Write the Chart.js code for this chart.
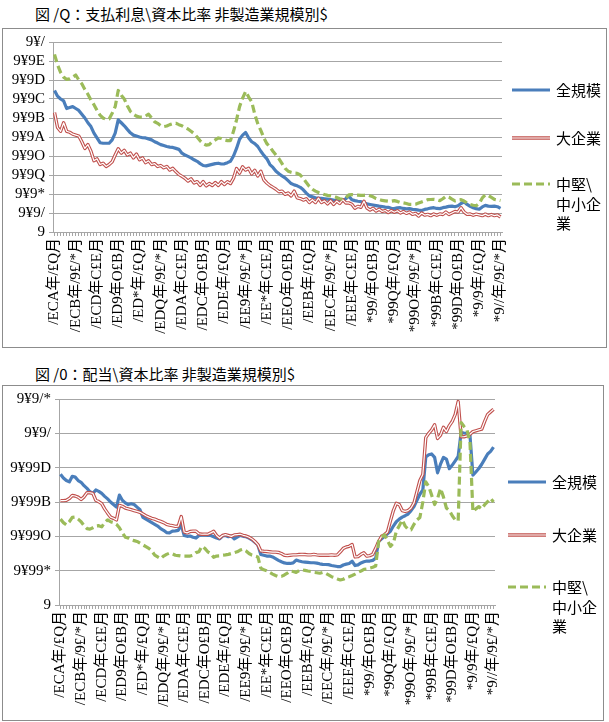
<!DOCTYPE html>
<html lang="ja">
<head>
<meta charset="utf-8">
<title>支払利息・配当／資本比率</title>
<script src="https://cdn.jsdelivr.net/npm/chart.js@4/dist/chart.umd.min.js"></script>
<style>
  body { margin:0; width:609px; height:722px; position:relative; background:#fff; font-family:"Noto Sans CJK JP", sans-serif; color:#000; overflow:hidden; }
  .title { position:absolute; left:35px; font-size:15px; line-height:20px; white-space:nowrap; }
  .box { position:absolute; border:1px solid #8c8c8c; }
  canvas { position:absolute; }
  .item { position:absolute; font-size:15px; line-height:19.5px; }
  .item svg { position:absolute; left:0; top:0; }
  .item span { position:absolute; top:0; white-space:pre; }
</style>
</head>
<body>
<div class="title" style="top:4px">図 /Q：支払利息\資本比率 非製造業規模別$</div>
<div class="box" style="left:2px; top:28px; width:603px; height:318px"></div>
<canvas id="chart1" width="602" height="317" style="left:3px; top:29px"></canvas>
<div id="legend1"></div>

<div class="title" style="top:364px">図 /0：配当\資本比率 非製造業規模別$</div>
<div class="box" style="left:2px; top:385px; width:600px; height:334px"></div>
<canvas id="chart2" width="599" height="333" style="left:3px; top:386px"></canvas>
<div id="legend2"></div>

<script>
// 1975年1-3月 ... 2011年10-12月 (四半期)
var firstYear = 1975;
var lastYear = 2011;
var quarterText = ['1~3', '4~6', '7~9', '10~12'];
var seriesNames = ['全規模', '大企業', '中堅\\中小企業'];
var legendText = ['全規模', '大企業', '中堅\\\n中小企\n業'];

// 支払利息/資本比率 (単位: 1/1000)
var interestAll = [
  74.5, 71.5, 70, 69, 65, 65.5, 66, 65, 64, 62,
  60, 57.5, 55.5, 52, 49.5, 47, 46.7, 46.7, 46.7, 48.5,
  52, 59, 57.5, 55.9, 54, 52.2, 51, 50.5, 50, 49.6,
  49.5, 49, 48.5, 47.5, 46.8, 46, 45.5, 45, 44.7, 44.5,
  44, 43.5, 41.5, 40.5, 39.8, 39, 38, 37.2, 36, 35,
  34.8, 35.2, 35.6, 36, 36.2, 35.8, 35.9, 36.5, 37.2, 40,
  44, 48.8, 51, 52.4, 49.5, 47.5, 46.5, 45, 42.5, 40.3,
  38.5, 35.5, 34, 32, 30.7, 29.5, 28.5, 27, 25.5, 24.8,
  24.3, 23.5, 22.2, 20.5, 19, 18.5, 18, 17.8, 17.7, 17.5,
  17.3, 17.1, 16.8, 16.6, 16.3, 16.5, 17.5, 19, 17, 16.5,
  16.2, 16, 15.3, 14.8, 14.5, 14.2, 13.9, 13.6, 13.4, 13.1,
  13, 12.5, 12.3, 12.7, 12.8, 12.4, 12.2, 12.3, 11.9, 11.8,
  11.5, 11.3, 11.9, 12.2, 12.6, 12.8, 12.4, 12.3, 12.8, 13.1,
  13.5, 13.6, 13.3, 13.8, 15, 15.9, 14.5, 13.5, 12.8, 12.3,
  12, 13.2, 14, 13.6, 13.5, 13.6, 13.3, 12.4
];
var interestLarge = [
  62.8, 55, 53, 57.5, 53, 52.5, 51.5, 51, 50.5, 47.5,
  44, 46, 42.5, 37.5, 38.5, 35.5, 36.2, 34.5, 35.5, 37,
  40.5, 43.8, 41.5, 43, 40.5, 41.5, 39, 41, 38, 39,
  36.5, 37.5, 35.5, 36, 34.5, 35, 33.8, 34.5, 32.6, 33.5,
  31.8, 30.3, 29.3, 28.3, 26.8, 28, 25.8, 26.5, 24.5, 26.5,
  24.3, 25.5, 24.5, 26, 24.5, 26.5, 25, 26.5, 25.5, 28.3,
  33.4, 31, 34.3, 32.6, 33.5, 30.5, 32.5, 29.5, 32, 27.5,
  25.8, 24.5, 23.5, 22.5, 21.2, 21.5, 19.8, 20.5, 19, 21.5,
  18, 17.6, 16.8, 17.5, 15.5, 17, 15.5, 17.8, 15.5, 16.4,
  14.8, 16.5, 14.5, 16.3, 15, 17, 15.3, 15.3, 14.6, 12.5,
  13.5, 13, 16.2, 12.6, 11.6, 12.5, 11, 12, 10.8, 11.3,
  10.2, 11.3, 10.4, 11.2, 10, 10.8, 9.8, 10.5, 9.3, 9.8,
  8.4, 10, 8.9, 9.3, 8.6, 9.5, 8.8, 9.5, 9.2, 10.5,
  9.2, 10, 10.8, 10.5, 12.8, 10.5, 9.3, 9.5, 8.8, 9.4,
  9, 8.6, 9.4, 8.6, 9.2, 8.6, 9, 7.9
];
var interestSmall = [
  93.5, 88, 84, 81.5, 80.3, 80.6, 81.5, 82.6, 80, 78,
  75, 72.5, 69.5, 67, 64, 61.5, 60, 59.3, 59.5, 62.5,
  66, 74.5, 72, 70, 66.5, 63.5, 62, 61, 60.5, 60.5,
  61, 62, 60, 58, 57.2, 56, 55.5, 55.8, 56.5, 57,
  57.2, 56.5, 55.9, 55, 54.2, 53, 51.8, 50, 48, 46.5,
  45.7, 46, 47.5, 48.5, 49.5, 49.2, 48.5, 48.1, 48.1, 53,
  59, 66, 70.5, 74, 71, 68.5, 62, 57, 53.5, 49.5,
  46.5, 44.7, 42.5, 40.5, 38.5, 36, 33.5, 32, 31.4, 31,
  30.9, 30, 28.3, 26, 24, 22.5, 21.5, 20.8, 20.2, 19.7,
  19.3, 19, 18.6, 18.2, 17.5, 17.2, 18, 19.5, 19.7, 19.5,
  19.4, 19.3, 19.3, 19.5, 19.1, 18.5, 17.6, 17.1, 16.6, 16.4,
  16.2, 16.2, 16.5, 16.1, 15.5, 15.3, 15, 14.5, 14.5, 14.6,
  15.2, 15.8, 16.4, 17, 17.1, 17.2, 17, 16.5, 17.5, 18.8,
  18.3, 17.3, 16.4, 16.8, 17, 16.3, 15.3, 14.5, 14.1, 13.8,
  15, 17.9, 19.5, 19.2, 18.2, 17.2, 16.9, 16.6
];

// 配当/資本比率 (単位: 1/1000)
var dividendAll = [
  7.62, 7.4, 7.25, 7.17, 7.5, 7.45, 7.25, 7.15, 6.95, 6.79,
  6.6, 6.5, 6.7, 6.62, 6.5, 6.33, 6.18, 6, 5.85, 5.7,
  6.4, 6.1, 5.95, 5.85, 5.9, 5.85, 5.7, 5.55, 5.1, 5,
  4.9, 4.8, 4.7, 4.6, 4.45, 4.35, 4.22, 4.2, 4.3, 4.32,
  4.35, 4.67, 4.05, 4, 4.02, 3.95, 3.9, 4.05, 4.07, 4.08,
  4.05, 4.05, 3.98, 3.9, 3.85, 4.02, 4.05, 3.98, 4.02, 3.85,
  3.95, 4.05, 4, 3.98, 3.9, 3.8, 3.65, 3.5, 2.94, 2.9,
  2.85, 2.85, 2.8, 2.7, 2.6, 2.52, 2.45, 2.42, 2.42, 2.45,
  2.62, 2.56, 2.52, 2.5, 2.48, 2.46, 2.46, 2.44, 2.4, 2.37,
  2.36, 2.35, 2.3, 2.27, 2.24, 2.23, 2.33, 2.38, 2.42, 2.55,
  2.3, 2.34, 2.45, 2.52, 2.56, 2.56, 2.6, 2.72, 3.7, 3.85,
  4, 4.15, 4.3, 4.6, 4.85, 5, 5.12, 5.2, 5.3, 5.5,
  5.73, 6.1, 6.45, 6.7, 8.62, 8.75, 8.8, 8.6, 7.7, 8.2,
  8.6, 8.5, 7.94, 8.15, 8.4, 8.65, 10.05, 10.02, 10, 9.9,
  7.56, 7.75, 7.95, 8.2, 8.5, 8.8, 8.95, 9.2
];
var dividendLarge = [
  6.08, 6.08, 6.1, 6.2, 6.38, 6.35, 6.28, 6.15, 6.3, 6.54,
  6.54, 6.5, 6.1, 6.02, 5.9, 5.6, 5.35, 5.12, 5.05, 4.96,
  5.8, 5.75, 5.65, 5.6, 5.55, 5.5, 5.45, 5.4, 5.3, 5.2,
  5.12, 5.05, 5, 4.93, 4.87, 4.8, 4.7, 4.65, 4.62, 4.58,
  4.6, 5.15, 4.25, 4.2, 4.28, 4.3, 4.3, 4.15, 4.12, 4.13,
  4.12, 4.2, 4.29, 4.05, 3.9, 4.05, 4.1, 4.05, 4, 4.08,
  4.1, 4.12, 4.06, 4.02, 3.95, 3.85, 3.7, 3.52, 3.15, 3.13,
  3.12, 3.1, 3.08, 3.08, 3.06, 3, 2.9, 2.88, 2.9, 2.92,
  2.92, 2.94, 2.95, 2.94, 2.92, 2.92, 2.95, 2.92, 2.9, 2.9,
  2.9, 2.9, 2.92, 2.9, 2.92, 3.1, 3.3, 3.38, 3.42, 3.52,
  2.8, 2.82, 2.95, 3.04, 2.85, 2.88, 2.95, 3.3, 3.7, 4,
  4.1, 4.25, 4.9, 5.5, 5.92, 5.85, 5.5, 5.45, 5.5, 5.65,
  5.95, 6.6, 7.25, 7.6, 9.75, 10, 10.2, 10.5, 9.7, 9.9,
  10.35, 10.1, 10.45, 10.7, 11.1, 11.85, 9.8, 9.8, 9.85, 9.95,
  10.1, 10.15, 10.2, 10.25, 10.7, 11.1, 11.25, 11.4
];
var dividendSmall = [
  5, 4.8, 4.67, 4.85, 5.1, 5.12, 5, 4.85, 4.62, 4.45,
  4.42, 4.5, 4.6, 4.62, 4.55, 4.8, 4.96, 4.85, 4.8, 4.7,
  4.5, 4.2, 3.95, 3.9, 3.8, 3.75, 3.7, 3.6, 3.5, 3.4,
  3.3, 3.15, 2.9, 2.8, 2.7, 2.85, 2.95, 3.02, 2.98, 2.9,
  2.88, 2.85, 2.85, 2.85, 2.85, 2.9, 3.05, 3.1, 3.42, 3.3,
  3.1, 3, 2.78, 2.85, 2.86, 2.9, 2.92, 2.95, 3, 3.05,
  3.1, 3.2, 3.25, 3.15, 3, 2.9, 2.85, 2.8, 2.15, 2.05,
  2, 1.9, 1.8, 1.72, 1.65, 1.67, 1.75, 1.85, 1.98, 1.95,
  1.9, 2, 2.05, 2.02, 1.98, 1.95, 1.9, 1.88, 1.85, 1.9,
  1.85, 1.75, 1.65, 1.6, 1.52, 1.46, 1.5, 1.6, 1.65, 1.72,
  1.8, 1.9, 1.98, 2.08, 2.1, 2.15, 2.2, 2.27, 3.71, 3.95,
  4.1, 3.75, 3.42, 3.6, 4.3, 4.62, 4.95, 4.6, 4.4, 4.38,
  4.7, 4.95, 5.1, 6, 7.17, 6.9, 6.4, 5.85, 6.2, 6.79,
  6.3, 5.65, 5.5, 5.2, 4.96, 4.9, 10.63, 10.4, 10.2, 9.5,
  5.44, 5.6, 5.73, 5.6, 5.85, 6.02, 6.21, 6
];

// 元の図は数字が別の字形に化けているので、そのまま再現する
var glyph = { '0': '9', '1': '/', '2': '*', '3': 'Q', '4': 'O', '5': 'A', '6': 'B', '7': 'C', '8': 'D', '9': 'E', '.': '¥', '~': '£' };
function garble(s) {
    return s.replace(/[0-9.~]/g, function (c) { return glyph[c]; });
}

var categories = [];
for (var y = firstYear; y <= lastYear; y++) {
    quarterText.forEach(function (q) {
        categories.push(garble(String(y)) + '年' + garble(q) + '月');
    });
}

var styles = [
    { color: '#4a7ebb', width: 3.2, dash: [] },
    { color: '#c0504d', width: 3.4, dash: [], inner: '#ffffff', innerWidth: 1.2 },
    { color: '#9bbb59', width: 3.2, dash: [8, 4] }
];
var gridColor = '#a6a6a6';
var tickFont = "'Liberation Serif', 'Noto Sans CJK JP', serif";

// 大企業は白抜きの二重線
var doubleLine = {
    id: 'doubleLine',
    afterDatasetDraw: function (chart, args) {
        var ds = chart.data.datasets[args.index];
        if (!ds.innerColor) return;
        var ctx = chart.ctx;
        var pts = args.meta.data;
        ctx.save();
        ctx.beginPath();
        pts.forEach(function (p, i) {
            if (i === 0) ctx.moveTo(p.x, p.y); else ctx.lineTo(p.x, p.y);
        });
        ctx.strokeStyle = ds.innerColor;
        ctx.lineWidth = ds.innerWidth;
        ctx.lineJoin = 'round';
        ctx.stroke();
        ctx.restore();
    }
};

function makeChart(canvasId, series, yMax, yStep, area) {
    var datasets = series.map(function (vals, k) {
        var s = styles[k];
        return {
            label: seriesNames[k],
            data: vals.map(function (v) { return v / 1000; }),
            borderColor: s.color,
            borderWidth: s.width,
            borderDash: s.dash,
            borderCapStyle: 'butt',
            borderJoinStyle: 'round',
            innerColor: s.inner,
            innerWidth: s.innerWidth,
            pointRadius: 0,
            tension: 0,
            fill: false,
            order: 2 - k
        };
    });

    new Chart(document.getElementById(canvasId), {
        type: 'line',
        data: { labels: categories, datasets: datasets },
        options: {
            responsive: false,
            animation: false,
            layout: { padding: { top: area.top, right: area.right, left: 0, bottom: 0 } },
            plugins: { legend: { display: false }, tooltip: { enabled: false } },
            scales: {
                x: {
                    offset: true,
                    grid: { drawOnChartArea: false, drawTicks: true, tickLength: 4, color: gridColor },
                    border: { color: gridColor },
                    ticks: {
                        autoSkip: false,
                        minRotation: 90,
                        maxRotation: 90,
                        padding: 2,
                        color: '#000',
                        font: { family: tickFont, size: 15 },
                        callback: function (v, i) { return i % 7 === 0 ? categories[i] : ''; }
                    },
                    afterFit: function (scale) { scale.height = area.xh; }
                },
                y: {
                    min: 0,
                    max: yMax,
                    grid: { color: gridColor, tickLength: 4 },
                    border: { color: gridColor },
                    ticks: {
                        stepSize: yStep,
                        autoSkip: false,
                        padding: 4,
                        color: '#000',
                        font: { family: tickFont, size: 15 },
                        callback: function (v) { return garble(String(+v.toFixed(4))); }
                    },
                    afterFit: function (scale) { scale.width = area.left; }
                }
            }
        },
        plugins: [doubleLine]
    });
}

function makeLegend(id, x, textX, ys) {
    var box = document.getElementById(id);
    styles.forEach(function (s, k) {
        var item = document.createElement('div');
        item.className = 'item';
        item.style.left = x + 'px';
        item.style.top = (ys[k] - 10) + 'px';
        var len = 38;
        var svg = '<svg width="' + len + '" height="20">' +
            '<line x1="0" y1="10" x2="' + len + '" y2="10" stroke="' + s.color + '" stroke-width="' + s.width + '"' +
            (s.dash.length ? ' stroke-dasharray="' + s.dash.join(',') + '"' : '') + '/>' +
            (s.inner ? '<line x1="0" y1="10" x2="' + len + '" y2="10" stroke="' + s.inner + '" stroke-width="' + s.innerWidth + '"/>' : '') +
            '</svg>';
        item.innerHTML = svg + '<span style="left:' + (textX - x) + 'px"></span>';
        item.querySelector('span').textContent = legendText[k];
        box.appendChild(item);
    });
}

makeChart('chart1', [interestAll, interestLarge, interestSmall], 0.1, 0.01,
    { left: 50, top: 10.5, right: 103, xh: 114 });
makeChart('chart2', [dividendAll, dividendLarge, dividendSmall], 0.012, 0.002,
    { left: 56, top: 11, right: 107, xh: 114 });

makeLegend('legend1', 512, 556, [90, 138, 184]);
makeLegend('legend2', 508, 552, [482, 535, 587]);
</script>
</body>
</html>
